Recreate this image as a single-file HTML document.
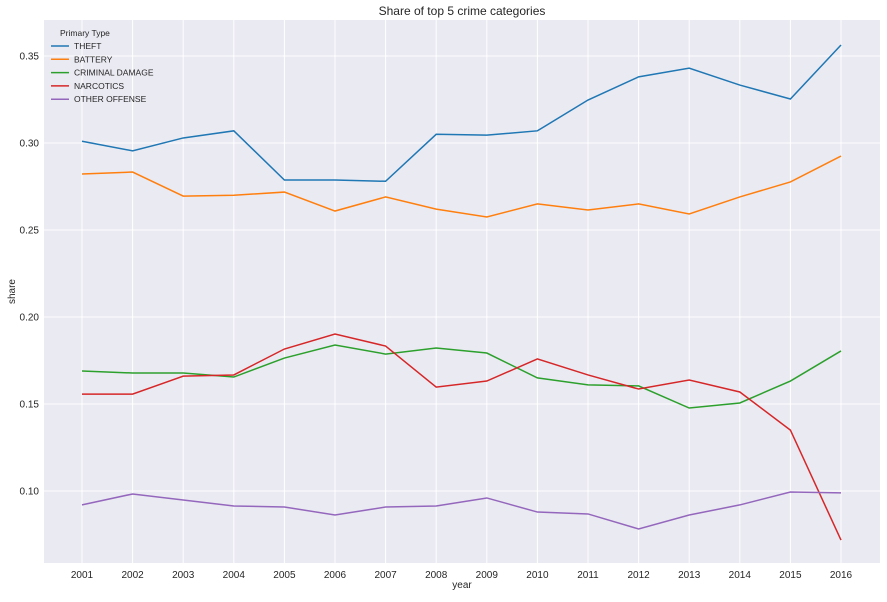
<!DOCTYPE html>
<html><head><meta charset="utf-8"><style>
body{margin:0;background:#fff;font-family:"Liberation Sans",sans-serif;}
svg text{font-family:"Liberation Sans",sans-serif;fill:#262626;}
</style></head><body>
<svg id="chart" width="887" height="597"></svg>
<script>
const years=[2001,2002,2003,2004,2005,2006,2007,2008,2009,2010,2011,2012,2013,2014,2015,2016];
const theft=[0.301,0.2955,0.3029,0.307,0.2787,0.2787,0.278,0.305,0.3045,0.307,0.3247,0.338,0.343,0.3333,0.3253,0.3563];
const battery=[0.2822,0.2833,0.2695,0.270,0.2718,0.2609,0.269,0.262,0.2575,0.265,0.2615,0.265,0.2592,0.269,0.2776,0.2925];
const criminalDamage=[0.169,0.1678,0.1678,0.1655,0.1764,0.1839,0.1787,0.1822,0.1793,0.165,0.161,0.1604,0.1477,0.1506,0.1632,0.1805];
const narcotics=[0.1557,0.1557,0.166,0.1667,0.1816,0.1902,0.1833,0.1597,0.1632,0.1759,0.1667,0.1586,0.1638,0.1569,0.135,0.0718];
const otherOffense=[0.092,0.0983,0.0948,0.0914,0.0908,0.0862,0.0908,0.0914,0.096,0.0879,0.0868,0.0782,0.0862,0.092,0.0994,0.0989];
const yTicks=[0.10,0.15,0.20,0.25,0.30,0.35];
const seriesNames=["THEFT","BATTERY","CRIMINAL DAMAGE","NARCOTICS","OTHER OFFENSE"];
const seriesColors=["#1f77b4","#ff7f0e","#2ca02c","#d62728","#9467bd"];
const seriesData=[theft,battery,criminalDamage,narcotics,otherOffense];

const NS="http://www.w3.org/2000/svg";
const svg=document.getElementById('chart');
const L=44,R=880,T=20,B=563;
function xs(yr){return 82+(yr-2001)*(841-82)/15;}
function ys(v){return 56+(0.35-v)*1740;}
function mk(tag,attrs,parent){const e=document.createElementNS(NS,tag);for(const k in attrs)e.setAttribute(k,attrs[k]);(parent||svg).appendChild(e);return e;}

const bg=mk('rect',{x:L,y:T,width:R-L,height:B-T,fill:'#eaeaf2'});



const grid=mk('g',{});


years.forEach(yr=>{
  mk('line',{x1:xs(yr),x2:xs(yr),y1:T,y2:B,stroke:'#fff','stroke-width':1},grid);
  const t=mk('text',{x:xs(yr),y:B+15,'font-size':10,'text-anchor':'middle'});
  t.textContent=yr;
  
  
});
yTicks.forEach(v=>{
  mk('line',{x1:L,x2:R,y1:ys(v),y2:ys(v),stroke:'#fff','stroke-width':1},grid);
  const t=mk('text',{x:L-5,y:ys(v)+3.5,'font-size':10,'text-anchor':'end'});
  t.textContent=v.toFixed(2);
  
  
});

seriesData.forEach((d,i)=>{
  const p=mk('polyline',{points:d.map((v,j)=>xs(years[j])+','+ys(v)).join(' '),fill:'none',stroke:seriesColors[i],'stroke-width':1.5});
  
  
});

const title=mk('text',{x:(L+R)/2,y:15,'font-size':12,'text-anchor':'middle'});
title.textContent='Share of top 5 crime categories';


const xt=mk('text',{x:(L+R)/2,y:588,'font-size':10,'text-anchor':'middle'});
xt.textContent='year';


const yt=mk('text',{x:15,y:(T+B)/2,'font-size':10,'text-anchor':'middle',transform:'rotate(-90 15 '+(T+B)/2+')'});
yt.textContent='share';



const lg=mk('g',{});


const lt=mk('text',{x:60,y:36,'font-size':8.5},lg);
lt.textContent='Primary Type';
seriesNames.forEach((n,i)=>{
  const y=49+i*13.3;
  mk('line',{x1:51,x2:69,y1:y-3,y2:y-3,stroke:seriesColors[i],'stroke-width':1.5},lg);
  const t=mk('text',{x:74,y:y,'font-size':8.5},lg);
  t.textContent=n;
  
  
});
</script>
</body></html>
